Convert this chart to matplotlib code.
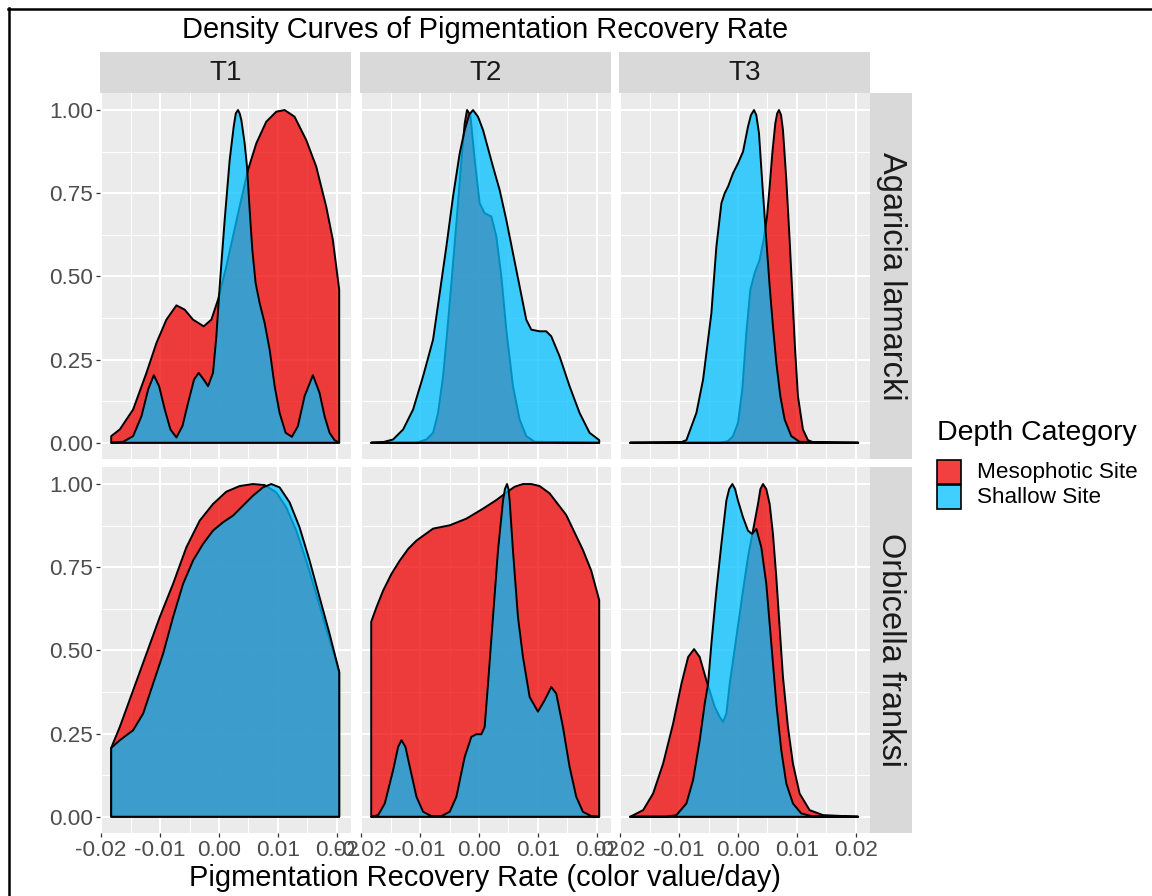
import matplotlib
matplotlib.use("Agg")
import matplotlib.pyplot as plt
from matplotlib.colors import to_rgba
from matplotlib.patches import Rectangle
from matplotlib.lines import Line2D

plt.rcParams['font.family'] = ['Liberation Sans', 'DejaVu Sans']

# ---- data (scaled density) ----
times = ['T1', 'T2', 'T3']
species = ['Agaricia lamarcki', 'Orbicella franksi']
depth_labels = ['Mesophotic Site', 'Shallow Site']
depth_colors = ['#EE0000', '#00BFFF']

x_ag_t1_meso = [-0.0183, -0.01684, -0.01458, -0.01232, -0.01062, -0.00893, -0.00723, -0.00582, -0.00441,
                -0.0026, -0.0013, -0.00017, 0.00124, 0.00237, 0.0035, 0.00492, 0.00633, 0.00802, 0.00972,
                0.01113, 0.01282, 0.0148, 0.0165, 0.01819, 0.01932, 0.0204]
y_ag_t1_meso = [0.02, 0.04, 0.10, 0.21, 0.30, 0.37, 0.413, 0.40, 0.37,
                0.35, 0.37, 0.43, 0.53, 0.62, 0.71, 0.82, 0.90, 0.965, 0.995,
                1.0, 0.98, 0.91, 0.83, 0.71, 0.61, 0.46]
x_ag_t1_shal = [-0.0183, -0.01627, -0.01458, -0.01316, -0.01203, -0.01107, -0.01017, -0.00921, -0.00825,
                -0.00723, -0.00621, -0.00525, -0.00424, -0.00345, -0.0026, -0.00186, -0.00102, -0.00045,
                0.00011, 0.00096, 0.00181, 0.00249, 0.00285, 0.00322, 0.0035, 0.00379, 0.00435, 0.00475,
                0.0052, 0.00565, 0.00621, 0.00689, 0.00774, 0.00859, 0.00944, 0.01028, 0.0113, 0.01237,
                0.01339, 0.01452, 0.01593, 0.01706, 0.01791, 0.01876, 0.0196, 0.0204]
y_ag_t1_shal = [0.0, 0.003, 0.02, 0.08, 0.16, 0.203, 0.17, 0.10, 0.04,
                0.016, 0.05, 0.12, 0.19, 0.21, 0.19, 0.17, 0.21, 0.32,
                0.47, 0.67, 0.85, 0.95, 0.99, 1.0, 0.99, 0.97, 0.90, 0.83,
                0.70, 0.58, 0.48, 0.42, 0.36, 0.28, 0.17, 0.09, 0.03, 0.018,
                0.05, 0.14, 0.203, 0.15, 0.08, 0.03, 0.008, 0.0]

x_ag_t2_meso = [-0.0183, -0.01062, -0.00893, -0.0078, -0.00695, -0.0061, -0.00542, -0.00469, -0.00384,
                -0.00299, -0.00243, -0.00203, -0.00147, -0.00073, 0.00011, 0.00096, 0.00209, 0.00294,
                0.00379, 0.00463, 0.00576, 0.00689, 0.00802, 0.00944, 0.0204]
y_ag_t2_meso = [0.0, 0.0, 0.01, 0.03, 0.09, 0.20, 0.33, 0.48, 0.66,
                0.85, 0.96, 1.0, 0.985, 0.85, 0.72, 0.69, 0.68, 0.62,
                0.50, 0.34, 0.17, 0.07, 0.02, 0.003, 0.0]
x_ag_t2_shal = [-0.0183, -0.01627, -0.01458, -0.01288, -0.01119, -0.00949, -0.0078, -0.00667, -0.00554,
                -0.00441, -0.00328, -0.00243, -0.00169, -0.00102, -0.00017, 0.00068, 0.00237, 0.0035,
                0.00463, 0.00576, 0.00689, 0.00802, 0.00887, 0.01028, 0.01141, 0.01226, 0.01367, 0.01537,
                0.01706, 0.01876, 0.0204]
y_ag_t2_shal = [0.0, 0.002, 0.01, 0.04, 0.10, 0.20, 0.31, 0.45, 0.59,
                0.74, 0.87, 0.94, 0.985, 1.0, 0.98, 0.94, 0.83, 0.76,
                0.67, 0.57, 0.47, 0.37, 0.34, 0.335, 0.335, 0.32, 0.26, 0.17,
                0.09, 0.03, 0.008]

x_ag_t3_meso = [-0.0183, -0.00311, -0.00169, -0.00085, 0.0, 0.00073, 0.00141, 0.00209, 0.00282, 0.00367,
                0.00435, 0.00492, 0.00537, 0.00582, 0.00633, 0.00665, 0.00695, 0.0073, 0.00763, 0.0082,
                0.00876, 0.00921, 0.00966, 0.01017, 0.01102, 0.01186, 0.01299, 0.0204]
y_ag_t3_meso = [0.0, 0.0, 0.005, 0.02, 0.06, 0.16, 0.33, 0.46, 0.51, 0.55,
                0.61, 0.68, 0.77, 0.87, 0.96, 0.99, 1.0, 0.985, 0.94, 0.79,
                0.61, 0.45, 0.29, 0.14, 0.04, 0.008, 0.0, 0.0]
x_ag_t3_shal = [-0.0183, -0.0096, -0.00876, -0.00706, -0.00593, -0.00452, -0.00367, -0.00282, -0.00226,
                -0.00169, -0.00085, 0.0, 0.00085, 0.00169, 0.0022, 0.00271, 0.0031, 0.00356, 0.00412,
                0.00452, 0.00492, 0.00537, 0.00593, 0.0065, 0.00718, 0.00791, 0.00904, 0.01045, 0.0204]
y_ag_t3_shal = [0.0, 0.002, 0.008, 0.09, 0.19, 0.39, 0.59, 0.72, 0.75,
                0.77, 0.81, 0.84, 0.875, 0.95, 0.985, 1.0, 0.985, 0.93, 0.78,
                0.68, 0.58, 0.47, 0.35, 0.24, 0.14, 0.07, 0.02, 0.003, 0.0]

x_or_t1_meso = [-0.0183, -0.01684, -0.01458, -0.01232, -0.01006, -0.0078, -0.00554, -0.00328, -0.00102,
                0.00124, 0.0035, 0.00576, 0.00774, 0.00972, 0.01141, 0.01311, 0.0148, 0.0165, 0.01819,
                0.01932, 0.0204]
y_or_t1_meso = [0.207, 0.27, 0.38, 0.49, 0.60, 0.70, 0.81, 0.89, 0.94,
                0.977, 0.994, 1.0, 0.997, 0.975, 0.93, 0.86, 0.77, 0.67, 0.565,
                0.50, 0.433]
x_or_t1_shal = [-0.0183, -0.01684, -0.01458, -0.01288, -0.01119, -0.00949, -0.0078, -0.0061, -0.00441,
                -0.00271, -0.00102, 0.00068, 0.00237, 0.00407, 0.00576, 0.00746, 0.00887, 0.01028,
                0.01198, 0.01367, 0.01537, 0.01706, 0.01876, 0.0204]
y_or_t1_shal = [0.207, 0.23, 0.26, 0.31, 0.40, 0.49, 0.60, 0.70, 0.77,
                0.82, 0.86, 0.885, 0.905, 0.935, 0.965, 0.99, 1.0, 0.99,
                0.945, 0.87, 0.77, 0.66, 0.55, 0.436]

x_or_t2_meso = [-0.0183, -0.0174, -0.01627, -0.01486, -0.01345, -0.01203, -0.01062, -0.0078, -0.00497,
                -0.00215, 0.00068, 0.00294, 0.00463, 0.00605, 0.00746, 0.00887, 0.01028, 0.01198, 0.0148,
                0.01763, 0.01904, 0.0204]
y_or_t2_meso = [0.586, 0.63, 0.68, 0.73, 0.77, 0.805, 0.83, 0.866, 0.876,
                0.896, 0.926, 0.952, 0.974, 0.992, 1.0, 1.0, 0.994, 0.972, 0.907,
                0.802, 0.74, 0.651]
x_or_t2_shal = [-0.0183, -0.01712, -0.01599, -0.01458, -0.01373, -0.01316, -0.01249, -0.01175, -0.01062,
                -0.00949, -0.00808, -0.00638, -0.00497, -0.00384, -0.00243, -0.0013, -0.00045, 0.0004,
                0.00096, 0.00153, 0.00237, 0.00322, 0.00407, 0.0044, 0.00475, 0.005, 0.0052, 0.00576,
                0.00661, 0.00746, 0.00859, 0.01, 0.01113, 0.01226, 0.01311, 0.01424, 0.01537, 0.0165,
                0.01763, 0.01904, 0.0204]
y_or_t2_shal = [0.0, 0.005, 0.04, 0.14, 0.21, 0.23, 0.21, 0.15, 0.06,
                0.015, 0.002, 0.002, 0.015, 0.06, 0.18, 0.24, 0.248, 0.248,
                0.27, 0.40, 0.60, 0.80, 0.95, 0.985, 1.0, 0.985, 0.95, 0.80,
                0.60, 0.48, 0.36, 0.316, 0.35, 0.39, 0.37, 0.27, 0.15, 0.06,
                0.015, 0.002, 0.0]

x_or_t3_meso = [-0.0183, -0.0161, -0.01441, -0.01271, -0.01102, -0.0096, -0.00847, -0.00746, -0.0065,
                -0.00537, -0.00395, -0.00311, -0.00254, -0.00198, -0.00141, -0.00028, 0.00085, 0.00169,
                0.00254, 0.00339, 0.0038, 0.00424, 0.0048, 0.00537, 0.00593, 0.0065, 0.00706, 0.00763,
                0.00847, 0.00932, 0.01045, 0.01215, 0.01441, 0.0204]
y_or_t3_meso = [0.0, 0.02, 0.07, 0.16, 0.28, 0.40, 0.48, 0.504, 0.48,
                0.41, 0.33, 0.30, 0.285, 0.31, 0.40, 0.54, 0.68, 0.78,
                0.86, 0.94, 0.985, 1.0, 0.985, 0.94, 0.85, 0.72, 0.57, 0.42,
                0.27, 0.16, 0.07, 0.02, 0.005, 0.0]
x_or_t3_shal = [-0.0183, -0.01215, -0.01045, -0.00876, -0.00763, -0.0065, -0.00565, -0.00508, -0.00452,
                -0.00367, -0.00282, -0.00198, -0.0015, -0.00096, -0.0005, 0.0, 0.00085, 0.00169, 0.00237,
                0.00311, 0.00395, 0.0048, 0.00565, 0.0065, 0.00734, 0.00819, 0.00932, 0.01073, 0.01271,
                0.0204]
y_or_t3_shal = [0.0, 0.0, 0.005, 0.04, 0.11, 0.23, 0.34, 0.40, 0.52,
                0.68, 0.82, 0.95, 0.985, 1.0, 0.985, 0.95, 0.90, 0.86, 0.85,
                0.865, 0.81, 0.70, 0.52, 0.34, 0.20, 0.10, 0.04, 0.01, 0.001,
                0.0]

curves = {
    (0, 0): [(x_ag_t1_meso, y_ag_t1_meso), (x_ag_t1_shal, y_ag_t1_shal)],
    (0, 1): [(x_ag_t2_meso, y_ag_t2_meso), (x_ag_t2_shal, y_ag_t2_shal)],
    (0, 2): [(x_ag_t3_meso, y_ag_t3_meso), (x_ag_t3_shal, y_ag_t3_shal)],
    (1, 0): [(x_or_t1_meso, y_or_t1_meso), (x_or_t1_shal, y_or_t1_shal)],
    (1, 1): [(x_or_t2_meso, y_or_t2_meso), (x_or_t2_shal, y_or_t2_shal)],
    (1, 2): [(x_or_t3_meso, y_or_t3_meso), (x_or_t3_shal, y_or_t3_shal)],
}

x_ticks = [-0.02, -0.01, 0.00, 0.01, 0.02]
y_ticks = [0.0, 0.25, 0.5, 0.75, 1.0]

# ---- layout (pixels) ----
W, H = 1152, 896
fig = plt.figure(figsize=(W / 100, H / 100), dpi=100)


def px_axes(left, top, width, height):
    return fig.add_axes([left / W, 1 - (top + height) / H, width / W, height / H])


col_left = [100, 360, 619]
col_w = 251
row_top = [93.4, 467.4]
row_h = 366
alpha = 0.75

for r in range(2):
    for c in range(3):
        ax = px_axes(col_left[c], row_top[r], col_w, row_h)
        ax.set_facecolor('#EBEBEB')
        for s in ax.spines.values():
            s.set_visible(False)
        ax.set_xlim(-0.0202, 0.0224)
        ax.set_ylim(-0.05, 1.05)
        ax.set_xticks(x_ticks)
        ax.set_xticks([-0.015, -0.005, 0.005, 0.015], minor=True)
        ax.set_yticks(y_ticks)
        ax.set_yticks([0.125, 0.375, 0.625, 0.875], minor=True)
        ax.set_xticklabels(['%.2f' % v for v in x_ticks])
        ax.set_yticklabels(['%.2f' % v for v in y_ticks])
        ax.set_axisbelow(True)
        ax.grid(which='major', color='white', linewidth=1.5)
        ax.grid(which='minor', color='white', linewidth=0.7)
        ax.tick_params(which='major', length=3.2, width=0.9, color='#333333',
                       labelcolor='#4D4D4D', labelsize=16.2, pad=1.5)
        ax.tick_params(which='minor', length=0)
        ax.tick_params(left=(c == 0), labelleft=(c == 0),
                       bottom=(r == 1), labelbottom=(r == 1))

        for (xs, ys), col in zip(curves[(r, c)], depth_colors):
            px = list(xs) + [xs[-1], xs[0]]
            py = list(ys) + [0, 0]
            ax.fill(px, py, facecolor=to_rgba(col, alpha), edgecolor='black',
                    linewidth=1.4, joinstyle='round')

# strips
for c in range(3):
    sx = px_axes(col_left[c], 52, col_w, 41.4)
    sx.set_facecolor('#D9D9D9')
    sx.set_xticks([]); sx.set_yticks([])
    for s in sx.spines.values():
        s.set_visible(False)
    sx.text(0.5, 0.5, times[c], ha='center', va='center', fontsize=20, color='#1A1A1A',
            transform=sx.transAxes)
for r in range(2):
    sy = px_axes(870, row_top[r], 42, row_h)
    sy.set_facecolor('#D9D9D9')
    sy.set_xticks([]); sy.set_yticks([])
    for s in sy.spines.values():
        s.set_visible(False)
    sy.text(0.5, 0.5, species[r], ha='center', va='center', fontsize=23.5, color='#1A1A1A',
            rotation=270, transform=sy.transAxes)

# titles
fig.text(485 / W, 1 - 30 / H, 'Density Curves of Pigmentation Recovery Rate',
         ha='center', va='center', fontsize=20.9, color='black')
fig.text(485 / W, 1 - 878 / H, 'Pigmentation Recovery Rate (color value/day)',
         ha='center', va='center', fontsize=20.9, color='black')

# legend
fig.text(937 / W, 1 - 433 / H, 'Depth Category', ha='left', va='center',
         fontsize=20.5, color='black')
for i, (lab, col) in enumerate(zip(depth_labels, depth_colors)):
    top = 460 + i * 25
    fig.patches.append(Rectangle((937 / W, 1 - (top + 24) / H), 24 / W, 24 / H,
                                 transform=fig.transFigure, facecolor=to_rgba(col, alpha),
                                 edgecolor='black', linewidth=1.2))
    fig.text(977 / W, 1 - (top + 12) / H, lab, ha='left', va='center',
             fontsize=16.2, color='black')

# outer frame (top and left edges visible)
fig.lines.append(Line2D([8 / W, 1], [1 - 9.5 / H, 1 - 9.5 / H], transform=fig.transFigure,
                        color='black', linewidth=1.8))
fig.lines.append(Line2D([8.5 / W, 8.5 / W], [0, 1 - 8.5 / H], transform=fig.transFigure,
                        color='black', linewidth=1.8))

fig.savefig('out.png', dpi=100)
